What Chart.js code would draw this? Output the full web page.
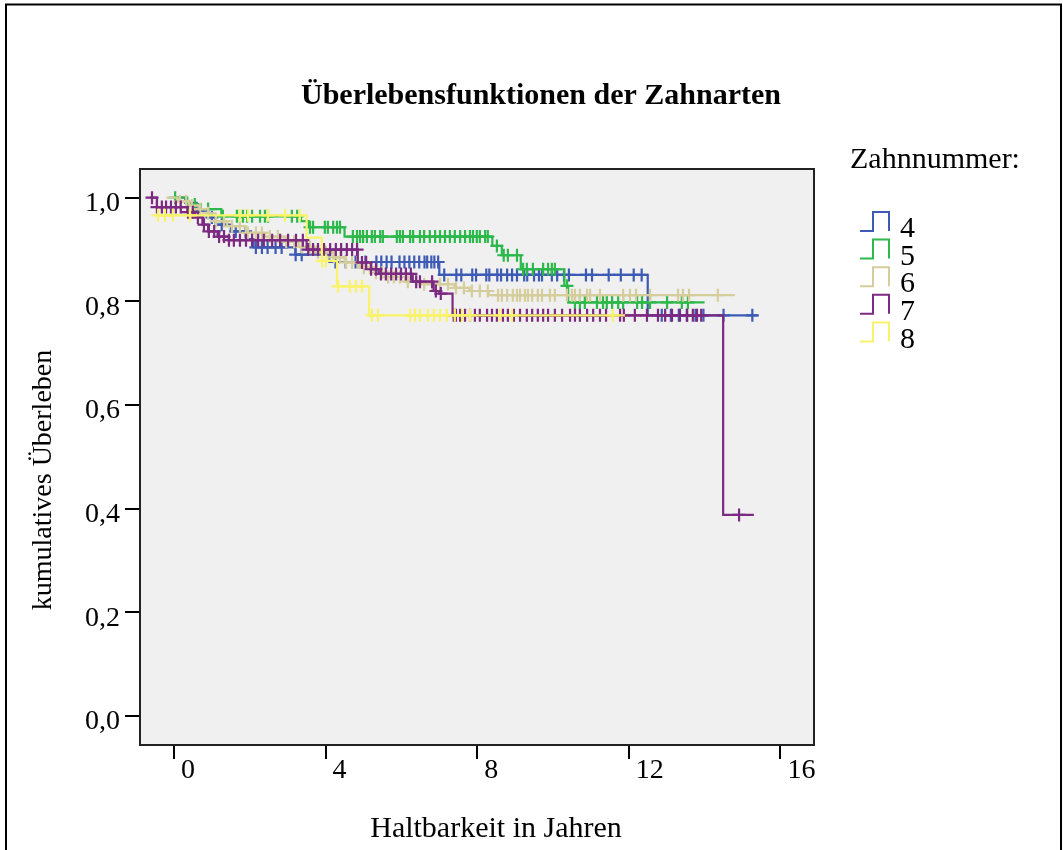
<!DOCTYPE html>
<html>
<head>
<meta charset="utf-8">
<script src="https://cdn.jsdelivr.net/npm/chart.js@4/dist/chart.umd.min.js"></script>
<style>
  html, body { margin: 0; padding: 0; background: #fff; }
  #wrap { width: 1063px; height: 850px; }
</style>
</head>
<body>
<div id="wrap"><canvas id="c" width="1063" height="850"></canvas></div>
<script>
// Texts
const chartTitle = 'Überlebensfunktionen der Zahnarten';
const xAxisTitle = 'Haltbarkeit in Jahren';
const yAxisTitle = 'kumulatives Überleben';
const legendTitle = 'Zahnnummer:';

// Axis ticks
const xTicks = [0, 4, 8, 12, 16];
const yTicks = [0, 0.2, 0.4, 0.6, 0.8, 1.0];
const yTickLabels = ['0,0', '0,2', '0,4', '0,6', '0,8', '1,0'];

// Groups
const seriesNames = ['4', '5', '6', '7', '8'];
const seriesColors = ['#3d5bb4', '#2db84b', '#d5cd9c', '#7c2a81', '#f8f36a'];

// Zahn 4: step times, survival after each step, censored times
const zahn4Zeit = [0, 0.3, 0.6, 0.9, 1.1, 1.5, 1.9, 2.1, 3.2, 4.1, 7.0, 12.5, 15.4];
const zahn4Surv = [1.0, 0.99, 0.975, 0.962, 0.948, 0.935, 0.92, 0.904, 0.89, 0.876, 0.851, 0.773, 0.773];
const zahn4Zens = [0.63, 1.0, 1.26, 1.63, 1.89, 2.16, 2.32, 2.47, 2.68, 2.84, 3.21, 3.37,
  4.26, 4.53, 4.79, 5.05, 5.34, 5.47, 5.61, 5.74, 5.95, 6.08, 6.21, 6.34, 6.47, 6.61, 6.68, 6.79, 6.87, 6.97,
  7.13, 7.45, 7.58, 7.87, 7.97, 8.24, 8.32, 8.53, 8.63, 8.79, 8.92, 9.05, 9.24, 9.32, 9.5, 9.63, 9.71,
  9.97, 10.11, 10.29, 10.42, 10.87, 11.03, 11.47, 11.79, 12.13, 12.34,
  12.87, 13.11, 13.32, 13.53, 13.76, 13.97, 14.5, 15.26];

// Zahn 5
const zahn5Zeit = [0, 0.35, 0.7, 1.25, 3.35, 3.55, 4.5, 8.4, 8.65, 9.15, 10.3, 10.4, 14.0];
const zahn5Surv = [1.0, 0.987, 0.978, 0.964, 0.955, 0.943, 0.925, 0.907, 0.889, 0.862, 0.83, 0.798, 0.798];
const zahn5Zens = [0.03, 0.55, 0.9, 1.29, 1.66, 1.74, 1.82, 1.93, 2.06, 2.27, 2.4, 2.48, 3.11, 3.25,
  3.59, 3.67, 3.98, 4.06, 4.2, 4.3, 4.38, 4.72, 4.83, 4.91, 4.99, 5.09, 5.22, 5.3, 5.44, 5.51,
  5.88, 5.96, 6.04, 6.23, 6.31, 6.49, 6.6, 6.75, 6.89, 7.02, 7.15, 7.28, 7.41, 7.55, 7.68, 7.81,
  7.89, 7.99, 8.07, 8.21, 8.28, 8.52, 8.7, 8.81, 9.05, 9.21, 9.31, 9.47, 9.74, 9.87, 9.97, 10.05,
  10.37, 10.58, 10.71, 10.84, 11.16, 11.32, 11.42, 11.56, 11.72, 11.85, 12.22, 12.35, 12.56,
  13.01, 13.4, 13.56];

// Zahn 6
const zahn6Zeit = [-0.2, 0.1, 0.4, 0.65, 0.9, 1.1, 1.4, 1.9, 2.4, 2.9, 3.3, 3.8, 4.2, 4.5, 4.9,
  5.3, 5.6, 6.1, 6.5, 7.4, 7.8, 8.3, 14.8];
const zahn6Surv = [1.0, 0.993, 0.985, 0.978, 0.97, 0.955, 0.945, 0.932, 0.925, 0.915, 0.905, 0.895,
  0.885, 0.875, 0.865, 0.855, 0.847, 0.838, 0.833, 0.826, 0.82, 0.812, 0.812];
const zahn6Zens = [0.16, 0.32, 0.47, 0.69, 0.9, 1.11, 1.32, 1.53, 1.74, 1.95, 2.16, 2.32, 2.53, 2.74,
  2.96, 3.17, 3.38, 3.59, 3.8, 4.01, 4.22, 4.38, 4.54, 4.7, 4.85, 5.01, 5.17, 5.33, 5.49, 5.65,
  5.8, 5.96, 6.17, 6.39, 6.6, 6.81, 7.02, 7.23, 7.44, 7.65, 7.86, 8.07, 8.28, 8.55, 8.65, 8.79,
  8.94, 9.05, 9.13, 9.26, 9.34, 9.45, 9.6, 9.71, 9.92, 10.05, 10.37, 10.5, 10.58, 10.71, 10.9,
  10.98, 11.24, 11.85, 12.03, 12.19, 12.56, 13.3, 13.43, 13.59, 14.35];

// Zahn 7
const zahn7Zeit = [-0.62, -0.45, 0.35, 0.55, 0.75, 0.9, 1.15, 1.45, 3.5, 4.85, 5.2, 5.4, 6.3, 6.85,
  7.0, 7.35, 14.49, 15.3];
const zahn7Surv = [1.0, 0.982, 0.972, 0.962, 0.948, 0.935, 0.925, 0.918, 0.9, 0.875, 0.862, 0.853,
  0.838, 0.82, 0.815, 0.773, 0.388, 0.388];
const zahn7Zens = [-0.58, -0.45, -0.32, -0.21, -0.08, 0.05, 0.18, 0.37, 0.5, 0.63, 0.79, 0.92, 1.06,
  1.19, 1.32, 1.45, 1.58, 1.74, 1.9, 2.06, 2.22, 2.37, 2.59, 2.8, 3.01, 3.22, 3.4, 3.54, 3.67, 3.8,
  3.96, 4.12, 4.27, 4.41, 4.56, 4.7, 4.83, 4.96, 5.07, 5.2, 5.33, 5.46, 5.59, 5.73, 5.86, 5.99,
  6.12, 6.25, 6.39, 6.49, 6.81, 6.91, 7.04, 7.38, 7.44, 7.55, 7.68, 7.81, 7.94, 8.07, 8.26, 8.39,
  8.52, 8.68, 8.81, 8.97, 9.13, 9.31, 9.45, 9.6, 9.74, 9.87, 10.05, 10.24, 10.45, 10.58, 10.71,
  10.9, 11.06, 11.24, 11.4, 11.77, 11.87, 12.16, 12.48, 12.77, 12.96, 13.14, 13.35, 13.54, 13.69,
  13.8, 13.91, 14.91];

// Zahn 8
const zahn8Zeit = [-0.5, 3.5, 3.9, 4.3, 5.15, 11.9];
const zahn8Surv = [0.966, 0.923, 0.878, 0.829, 0.773, 0.773];
const zahn8Zens = [-0.42, -0.24, -0.03, 0.42, 1.74, 1.95, 2.48, 2.93, 3.32, 3.91, 4.01, 4.33, 4.64,
  4.8, 4.96, 5.22, 5.38, 6.23, 6.36, 6.49, 6.7, 6.86, 7.02, 7.2, 7.41, 7.6, 7.81, 8.6, 8.92, 11.58];

const groups = [
  { zeit: zahn4Zeit, surv: zahn4Surv, zens: zahn4Zens },
  { zeit: zahn5Zeit, surv: zahn5Surv, zens: zahn5Zens },
  { zeit: zahn6Zeit, surv: zahn6Surv, zens: zahn6Zens },
  { zeit: zahn7Zeit, surv: zahn7Surv, zens: zahn7Zens },
  { zeit: zahn8Zeit, surv: zahn8Surv, zens: zahn8Zens }
];

// survival level of a step curve at time t
function survivalAt(zeit, surv, t) {
  let s = surv[0];
  for (let i = 0; i < zeit.length; i++) {
    if (zeit[i] <= t) s = surv[i]; else break;
  }
  return s;
}

const datasets = [];
groups.forEach((g, k) => {
  const color = seriesColors[k];
  const base = (groups.length - k) * 2;
  datasets.push({
    label: seriesNames[k],
    data: g.zeit.map((t, i) => ({ x: t, y: g.surv[i] })),
    borderColor: color,
    backgroundColor: color,
    borderWidth: 2.2,
    stepped: 'before',
    pointRadius: 0,
    fill: false,
    order: base + 1
  });
  datasets.push({
    label: seriesNames[k] + ' zensiert',
    data: g.zens.map(t => ({ x: t, y: survivalAt(g.zeit, g.surv, t) })),
    borderColor: color,
    backgroundColor: color,
    showLine: false,
    pointStyle: 'cross',
    pointRadius: 6.5,
    pointBorderWidth: 2.2,
    order: base
  });
});

const FONT = '"Liberation Serif", "Times New Roman", serif';

const decorations = {
  id: 'decorations',
  beforeDraw(chart) {
    const { ctx, chartArea: a } = chart;
    ctx.save();
    ctx.fillStyle = '#ffffff';
    ctx.fillRect(0, 0, chart.width, chart.height);
    ctx.fillStyle = '#f0f0f0';
    ctx.fillRect(a.left, a.top, a.right - a.left, a.bottom - a.top);
    // outer frame
    ctx.strokeStyle = '#000';
    ctx.lineWidth = 2;
    ctx.strokeRect(6, 4.5, 1055, 900);
    ctx.restore();
  },
  afterDraw(chart) {
    const { ctx, chartArea: a } = chart;
    ctx.save();
    // plot frame
    ctx.strokeStyle = '#222';
    ctx.lineWidth = 2;
    ctx.strokeRect(a.left, a.top, a.right - a.left, a.bottom - a.top);

    ctx.fillStyle = '#000';
    // title
    ctx.font = 'bold 30px ' + FONT;
    ctx.textAlign = 'center';
    ctx.textBaseline = 'alphabetic';
    ctx.fillText(chartTitle, 541, 104);
    // axis titles
    ctx.font = '30px ' + FONT;
    ctx.fillText(xAxisTitle, 496, 837);
    ctx.font = '28px ' + FONT;
    ctx.save();
    ctx.translate(51, 480);
    ctx.rotate(-Math.PI / 2);
    ctx.fillText(yAxisTitle, 0, 0);
    ctx.restore();

    // legend
    ctx.font = '30px ' + FONT;
    ctx.textAlign = 'left';
    ctx.fillText(legendTitle, 850, 168);
    seriesNames.forEach((name, i) => {
      const yb = 231 + i * 27.6;
      const yt = yb - 19;
      ctx.strokeStyle = seriesColors[i];
      ctx.lineWidth = 2;
      ctx.beginPath();
      ctx.moveTo(860, yb);
      ctx.lineTo(873, yb);
      ctx.lineTo(873, yt);
      ctx.lineTo(889, yt);
      ctx.lineTo(889, yb);
      ctx.stroke();
      ctx.fillStyle = '#000';
      ctx.fillText(name, 900, 237 + i * 27.7);
    });
    ctx.restore();
  }
};

new Chart(document.getElementById('c'), {
  type: 'line',
  data: { datasets },
  options: {
    responsive: false,
    animation: false,
    devicePixelRatio: 1,
    layout: { padding: { top: 169, right: 249, left: 0, bottom: 0 } },
    plugins: { legend: { display: false }, tooltip: { enabled: false }, title: { display: false } },
    scales: {
      x: {
        type: 'linear',
        min: -0.897,
        max: 16.887,
        afterBuildTicks: s => { s.ticks = xTicks.map(v => ({ value: v })); },
        afterFit: s => { s.height = 105; },
        grid: { drawOnChartArea: false, drawTicks: true, tickLength: 14, color: '#000', lineWidth: 2 },
        border: { display: false },
        ticks: {
          align: 'start', labelOffset: 7, padding: -5, autoSkip: false, maxRotation: 0, minRotation: 0,
          color: '#000', font: { family: FONT, size: 28 },
          callback: v => String(v)
        }
      },
      y: {
        type: 'linear',
        min: -0.056,
        max: 1.0554,
        afterBuildTicks: s => { s.ticks = yTicks.map(v => ({ value: v })); },
        afterFit: s => { s.width = 140; },
        grid: { drawOnChartArea: false, drawTicks: true, tickLength: 15, color: '#000', lineWidth: 2 },
        border: { display: false },
        ticks: {
          labelOffset: 6, padding: 5, autoSkip: false,
          color: '#000', font: { family: FONT, size: 28 },
          callback: (v, i) => yTickLabels[i]
        }
      }
    }
  },
  plugins: [decorations]
});
</script>
</body>
</html>
